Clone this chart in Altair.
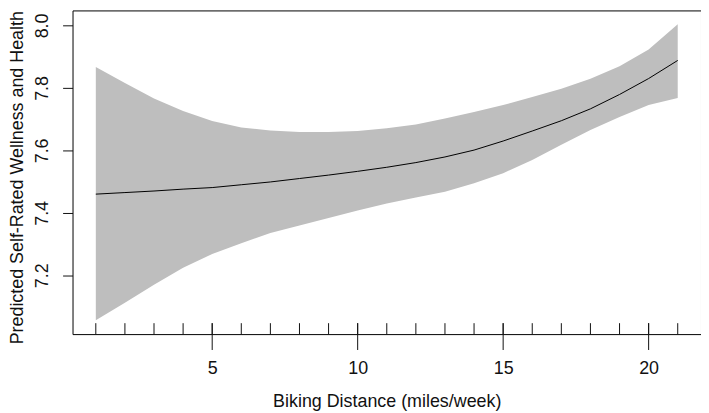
import altair as alt
import pandas as pd

# Data
distance = list(range(1, 22))
fit = [7.460, 7.465, 7.470, 7.476, 7.481, 7.490, 7.499, 7.510, 7.521, 7.533,
       7.546, 7.561, 7.579, 7.601, 7.630, 7.662, 7.695, 7.733, 7.779, 7.830, 7.888]
upper = [7.867, 7.816, 7.766, 7.726, 7.694, 7.673, 7.664, 7.659, 7.659, 7.662,
         7.671, 7.683, 7.702, 7.723, 7.745, 7.771, 7.797, 7.829, 7.869, 7.923, 8.004]
lower = [7.056, 7.112, 7.170, 7.224, 7.268, 7.303, 7.336, 7.360, 7.384, 7.408,
         7.430, 7.449, 7.468, 7.495, 7.527, 7.569, 7.618, 7.665, 7.707, 7.745, 7.768]
minor_ticks = list(range(1, 22))
major_ticks = [5, 10, 15, 20]
y_ticks = [7.2, 7.4, 7.6, 7.8, 8.0]

df = pd.DataFrame({"x": distance, "fit": fit, "lo": lower, "hi": upper})
minor_df = pd.DataFrame({"t": minor_ticks})
major_df = pd.DataFrame({"t": major_ticks})

W, H = 633, 326
FONT = "Liberation Sans"

xscale = alt.Scale(domain=[0.2, 21.8], nice=False, zero=False)
yscale = alt.Scale(domain=[7.012, 8.048], nice=False, zero=False)

band = alt.Chart(df).mark_area(color="#bebebe", opacity=1).encode(
    x=alt.X("x:Q", scale=xscale,
            axis=alt.Axis(title="Biking Distance (miles/week)", values=major_ticks,
                          ticks=False, tickSize=0, domain=False, grid=False,
                          labelPadding=40, labelBaseline="alphabetic",
                          labelFontSize=18, labelFont=FONT, labelColor="#111",
                          titleFontSize=18, titleFont=FONT, titleFontWeight="normal",
                          titleColor="#111", titleBaseline="alphabetic", titleY=73,
                          titleX=W / 2)),
    y=alt.Y("lo:Q", scale=yscale,
            axis=alt.Axis(title="Predicted Self-Rated Wellness and Health",
                          values=y_ticks, format=".1f", grid=False, domain=False,
                          ticks=True, tickSize=10, tickColor="#111",
                          labelAngle=270, labelAlign="center", labelBaseline="alphabetic",
                          labelPadding=15, labelFontSize=18, labelFont=FONT,
                          labelColor="#111",
                          titleFontSize=18, titleFont=FONT, titleFontWeight="normal",
                          titleColor="#111", titleAngle=270, titleAlign="center",
                          titleBaseline="alphabetic", titleX=-50, titleY=H / 2 + 5)),
    y2="hi:Q",
)

line = alt.Chart(df).mark_line(color="black", strokeWidth=1).encode(
    x=alt.X("x:Q", scale=xscale),
    y=alt.Y("fit:Q", scale=yscale),
)

minor = alt.Chart(minor_df).mark_rule(color="#111", strokeWidth=1).encode(
    x=alt.X("t:Q", scale=xscale),
    y=alt.value(H - 11),
    y2=alt.value(H),
)

major = alt.Chart(major_df).mark_rule(color="#111", strokeWidth=1).encode(
    x=alt.X("t:Q", scale=xscale),
    y=alt.value(H - 11),
    y2=alt.value(H + 16),
)

chart = alt.layer(band, line, minor, major).properties(
    width=W, height=H,
    autosize=alt.AutoSizeParams(type="none"),
    padding={"left": 65, "top": 1, "right": 0, "bottom": 76},
    background="white",
).configure_view(stroke="black", strokeWidth=1)

chart.save("out.html", embed_options={"renderer": "svg", "actions": False})
